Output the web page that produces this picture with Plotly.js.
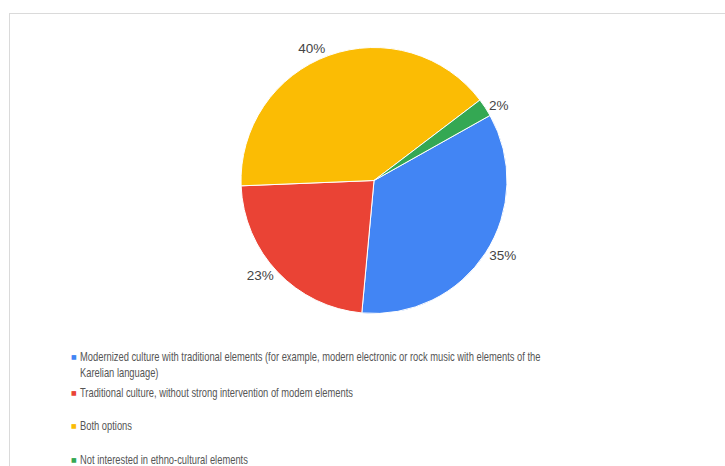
<!DOCTYPE html>
<html>
<head>
<meta charset="utf-8">
<script src="https://cdn.plot.ly/plotly-3.0.1.min.js"></script>
<style>
  html, body { margin: 0; padding: 0; background: #fff; overflow: hidden; }
  #frame { position: absolute; left: 9px; top: 13px; width: 900px; height: 700px;
           border-top: 1px solid #dadada; border-left: 1px solid #dadada; }
  #chart { position: absolute; left: 0; top: 0; width: 725px; height: 466px; }
</style>
</head>
<body>
<div id="frame"></div>
<div id="chart"></div>
<script>
// ---- data ----
const categories = [
  "Modernized culture with traditional elements (for example, modern electronic or rock music with elements of the<br>Karelian language)",
  "Traditional culture, without strong intervention of modem elements",
  "Both options",
  "Not interested in ethno-cultural elements"
];
const shares = [34.6, 22.9, 40.3, 2.2];
const colors = ["#4285F4", "#EA4335", "#FBBC04", "#34A853"];

// ---- layout helpers (pixel -> paper) ----
const W = 725, H = 466;
const px = x => x / W;
const py = y => 1 - y / H;
const FONT = "'Liberation Sans Narrow', 'Arial Narrow', 'Liberation Sans', Arial, sans-serif";

const cx = 374, cy = 180.5, r = 133;

const trace = {
  type: "pie",
  labels: categories,
  values: shares,
  sort: false,
  direction: "clockwise",
  rotation: 60.7,
  marker: { colors: colors, line: { color: "#ffffff", width: 1 } },
  textposition: "outside",
  texttemplate: "%{percent:.0%}",
  outsidetextfont: { family: FONT, size: 13.5, color: "#444444" },
  hoverinfo: "label+percent",
  domain: { x: [px(cx - r), px(cx + r)], y: [py(cy + r), py(cy - r)] },
  showlegend: false
};

// legend drawn as annotations built from the arrays
const itemY = [356, 392, 425, 459];
const annotations = [];
categories.forEach((c, i) => {
  annotations.push({
    xref: "paper", yref: "paper", x: px(74), y: py(itemY[i]),
    xanchor: "center", yanchor: "middle", showarrow: false,
    text: "■", font: { family: "DejaVu Sans", size: 6, color: colors[i] }
  });
  annotations.push({
    xref: "paper", yref: "paper", x: px(78), y: py(itemY[i] - 8),
    xanchor: "left", yanchor: "top", align: "left", showarrow: false,
    text: c, font: { family: FONT, size: 12, color: "#555555" }
  });
});

const layout = {
  width: W, height: H,
  margin: { l: 0, r: 0, t: 0, b: 0 },
  paper_bgcolor: "rgba(0,0,0,0)",
  plot_bgcolor: "rgba(0,0,0,0)",
  font: { family: FONT, color: "#444444" },
  annotations: annotations,
  showlegend: false
};

Plotly.newPlot("chart", [trace], layout, { displayModeBar: false, staticPlot: true }).then(gd => {
  // the reference uses a condensed face; narrow the legend text horizontally
  gd.querySelectorAll("g.annotation").forEach(g => {
    const idx = +g.getAttribute("data-index");
    if (idx % 2 === 1) {
      const t = g.querySelector("text.annotation-text");
      if (t) {
        t.style.transformBox = "fill-box";
        t.style.transformOrigin = "left center";
        t.style.transform = "scaleX(0.78)";
      }
    }
  });
});
</script>
</body>
</html>
